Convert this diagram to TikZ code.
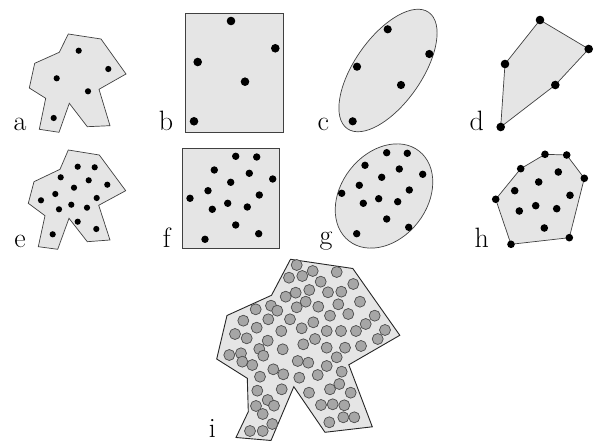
\documentclass[tikz,border=0pt]{standalone}
\begin{document}
\begin{tikzpicture}[x=1pt,y=-1pt,
  region/.style={fill=black!10, draw=black!75, line width=0.7pt},
  regioni/.style={fill=black!10, draw=black!85, line width=0.9pt},
  gcirc/.style={fill=black!35, draw=black!70, line width=0.7pt},
  lbl/.style={anchor=base, inner sep=0pt, font=\fontsize{28}{34}\selectfont}]
\useasboundingbox (0,0) rectangle (598,443);

% ---- a ----
\draw[region] (68.3,34)--(101,39)--(126,74)--(99,89.3)--(110,125.7)--(87.3,126.7)--(69.3,103.3)--(59,132.3)--(39.3,129.3)--(45.7,98.3)--(29.3,88)--(34.7,63.3)--(59.3,52.3)--cycle;
\foreach \p in {(78.7,50.7),(108.3,69),(56.7,78.3),(88,91.3),(53.7,118)}
  \fill \p circle (3.1);
\node[lbl] (la) at (20,131) {a};

% ---- b ----
\draw[region] (185.7,13.3) rectangle (283.7,132.3);
\foreach \p in {(231,21),(275.3,48.3),(197.7,62),(245,81.7),(194,121.3)}
  \fill \p circle (4.3);
\node[lbl] (lb) at (166,131) {b};

% ---- c ----
\draw[region] (388,70.5) ellipse [x radius=71, y radius=33.5, rotate=55];
\foreach \p in {(387.7,29.3),(429.3,54),(357,66.7),(401,85),(352.7,121.3)}
  \fill \p circle (4.1);
\node[lbl] (lc) at (323.3,131) {c};

% ---- d ----
\draw[region] (540,20)--(588.7,49)--(555.3,85)--(500.7,127)--(505,64)--cycle;
\foreach \p in {(540,20),(588.7,49),(555.3,85),(500.7,127),(505,64)}
  \fill \p circle (4.3);
\node[lbl] (ld) at (476.7,131) {d};

% ---- e ----
\draw[region] (68.3,150)--(99.3,155)--(125.7,190.7)--(98.7,205.3)--(110,240)--(87.3,241.7)--(69,218.3)--(57.7,249.3)--(38.3,246.7)--(45,215.7)--(28.3,203.3)--(34,181.7)--(60,169.3)--cycle;
\foreach \p in {(77.7,166.7),(94.7,167.3),(60.7,177.3),(88.7,180.3),(107.3,184.7),(74,187.7),(55.3,194),(96.7,198),(41,200.3),(71.3,204.7),(59,209.3),(87,207.7),(77.7,221.7),(96.3,229),(52.7,234.3)}
  \fill \p circle (3.1);
\node[lbl] (le) at (20,248) {e};

% ---- f ----
\draw[region] (182.3,148.3) rectangle (279.3,248.3);
\foreach \p in {(235.7,156.3),(256.7,157),(214.3,170),(249.3,173.3),(272.7,179),(230.7,182.3),(208,190.7),(259.3,195),(190,198.3),(227.7,203.3),(212.3,209.3),(247.3,207),(235.7,225),(258.7,233.7),(205,239.3)}
  \fill \p circle (3.7);
\node[lbl] (lf) at (166.7,248) {f};

% ---- g ----
\draw[region] (384,196) ellipse [x radius=57, y radius=43, rotate=52];
\foreach \p in {(386.7,152.7),(407.3,153.3),(365,165.3),(399.3,169),(422.7,174.3),(381.7,177.3),(359.3,185.3),(409.3,190),(341.7,193.3),(378.7,198.7),(363.3,203.3),(397.7,201.7),(386.7,219),(408.7,227.3),(356.7,233.7)}
  \fill \p circle (3.7);
\node[lbl] (lg) at (326,245) {g};

% ---- h ----
\draw[region] (545,154.3)--(566.7,155)--(584.3,178.3)--(569.3,237.7)--(511,244.3)--(495.7,199.3)--(520.7,168.7)--cycle;
\foreach \p in {(545,154.3),(566.7,155),(584.3,178.3),(569.3,237.7),(511,244.3),(495.7,199.3),(520.7,168.7),(558.3,172),(538.7,182),(514.7,190.7),(570,195.3),(535.7,205.7),(519.3,211),(556.7,208.7),(544.3,228)}
  \fill \p circle (3.8);
\node[lbl] (lh) at (481.7,247.5) {h};

% ---- i ----
\draw[regioni] (290.5,259.3)--(352.8,268.5)--(399.8,335.3)--(348.8,364.8)--(372.3,426.8)--(325,432.3)--(293.8,386.7)--(271,440.5)--(236,437.5)--(248.3,411.7)--(247.3,378.3)--(216.7,359)--(227,315.5)--(271.5,295.3)--cycle;
\foreach \p in {(296.7,265),(312.7,271),(336.7,272),(289,277.7),(302.3,276),(320.7,281.7),(353.3,284),(295.7,292.7),(309.3,290),(285.7,296.7),
(328,292.3),(341.3,291.7),(305.7,301.7),(296.7,307.3),(318.3,306.7),(338.3,304.3),(360,301.7),(255.7,309.3),(271,305.7),(277.3,310.7),
(348.3,314),(330,315.7),(374.7,315.7),(243.3,320.7),(268.3,319.3),(290,319.3),(313.3,322.3),(365.7,324),(256.7,327.7),(281.3,331),
(301.7,328.3),(326.7,331),(341,331),(356,331),(385,330),(235,334),(246.7,338.3),(267.7,340.7),(315,339),(377.7,339),
(303.3,344.3),(259.3,349),(282.7,349.3),(326.7,347.7),(345,347.7),(361,346),(229.3,355),(241,353.3),(263.3,355.7),(336.7,357.3),
(242.3,361.7),(252.3,365),(297.7,361),(308.3,362.7),(326.7,366),(273.3,369.3),(283.3,374.3),(260,376.7),(299.3,377.7),(317.7,375),
(341.7,371.7),(339.3,384),(281.7,389.3),(257.3,390.7),(309,392.7),(330,389.3),(350.7,392.7),(267.7,400),(274,405.7),(256,406),
(321,405),(332.7,404.3),(344.3,405.3),(262.7,414),(343.3,417.3),(354.3,417.3),(272.3,424),(329.3,422.3),(250,431),(262.7,431)}
  \draw[gcirc] \p circle (5.5);
\node[lbl] (li) at (212.3,438) {i};
\end{tikzpicture}
\end{document}
